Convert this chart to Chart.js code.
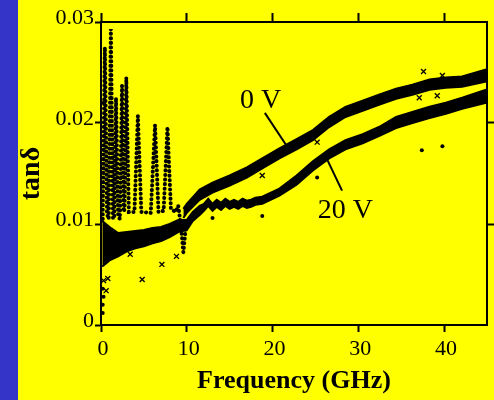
<!DOCTYPE html>
<html lang="en">
<head>
  <meta charset="UTF-8">
  <title>tan delta vs frequency</title>
  <script src="https://cdn.jsdelivr.net/npm/chart.js"></script>
  <style>
    body { margin: 0; background: #ffff00; }
    .strip { position: absolute; left: 0; top: 0; width: 18px; height: 400px; background: #3434c8; }
    .chart-box { position: absolute; left: 18px; top: 0; width: 476px; height: 400px; background: #ffff00; }
  </style>
</head>
<body>
  <div class="strip"></div>
  <div class="chart-box"><canvas id="lossChart"></canvas></div>

  <script>
    // ticks
    const xTicks = [0, 10, 20, 30, 40];
    const yTicks = [0, 0.01, 0.02, 0.03];
    const yTickLabels = ['0', '0.01', '0.02', '0.03'];

    // 20 V trace (thick band, lower and upper edge)
    const freq20V = [0.15, 1, 2, 3, 4, 5, 6, 7, 8, 9, 10, 10.7, 11.5, 12, 12.5, 13, 13.5, 14, 14.5, 15,
      15.5, 16, 16.5, 17, 17.5, 18, 18.8, 20.8, 22.8, 24.7, 26.6, 28.5, 30.5, 32.4, 34.4, 36.3, 38.3, 40.2, 42.1, 44.9];
    const tan20VLow = [0.0058, 0.0064, 0.0068, 0.0073, 0.0076, 0.0078, 0.0081, 0.0083, 0.0087, 0.0092, 0.0094, 0.0103, 0.0109, 0.0113, 0.0118, 0.0113, 0.0117, 0.0114, 0.0118, 0.0115,
      0.0117, 0.0115, 0.0118, 0.0116, 0.0117, 0.0119, 0.0120, 0.0128, 0.0139, 0.0153, 0.0165, 0.0174, 0.0180, 0.0187, 0.0195, 0.0200, 0.0205, 0.0209, 0.0214, 0.0220];
    const tan20VHigh = [0.0103, 0.0097, 0.0091, 0.0092, 0.0093, 0.0094, 0.0096, 0.0097, 0.0100, 0.0104, 0.0104, 0.0112, 0.0118, 0.0120, 0.0125, 0.0120, 0.0124, 0.0121, 0.0125, 0.0122,
      0.0124, 0.0122, 0.0125, 0.0123, 0.0124, 0.0126, 0.0127, 0.0135, 0.0148, 0.0162, 0.0174, 0.0183, 0.0189, 0.0196, 0.0206, 0.0211, 0.0216, 0.0220, 0.0225, 0.0233];

    // 0 V trace above 10 GHz
    const freq0V = [9.6, 10, 11.5, 13, 15, 17, 18.8, 20.8, 22.8, 24.7, 26.6, 28.5, 30.5, 32.4, 34.4, 36.3, 38.3, 40.2, 42.1, 44.9];
    const tan0VLow = [0.0106, 0.0111, 0.0124, 0.0131, 0.0138, 0.0146, 0.0155, 0.0165, 0.0174, 0.0183, 0.0196, 0.0206, 0.0212, 0.0218, 0.0224, 0.0228, 0.0233, 0.0235, 0.0236, 0.0241];
    const tan0VHigh = [0.0115, 0.0120, 0.0134, 0.0141, 0.0148, 0.0156, 0.0165, 0.0175, 0.0184, 0.0193, 0.0206, 0.0216, 0.0222, 0.0228, 0.0234, 0.0238, 0.0243, 0.0245, 0.0246, 0.0253];

    // 0 V resonances below 10 GHz
    const freqRes = [0.2, 0.45, 0.7, 0.9, 1.15, 1.4, 1.55, 1.75, 2.0, 2.2, 2.45, 2.65, 2.75, 2.95, 3.25, 3.9, 4.3, 4.7,
      5.8, 6.3, 6.7, 7.3, 7.75, 8.15, 8.7, 9.0, 9.3, 9.6, 9.9];
    const tanRes = [0.0105, 0.0275, 0.0110, 0.0105, 0.0293, 0.0105, 0.0108, 0.0225, 0.0108, 0.0105, 0.0237, 0.0112, 0.0115, 0.0245, 0.0112, 0.0112, 0.0207, 0.0112,
      0.0111, 0.0198, 0.0112, 0.0113, 0.0196, 0.0115, 0.0112, 0.0118, 0.0100, 0.0072, 0.0098];

    // stray points
    const crossFreq = [0.1, 0.3, 0.6, 0.8, 3.4, 4.8, 7.1, 8.8, 18.8, 25.2, 37.1, 37.6, 39.2, 39.8];
    const crossTan = [0.0220, 0.0044, 0.0034, 0.0046, 0.0070, 0.0045, 0.0060, 0.0068, 0.0148, 0.0181, 0.0225, 0.0251, 0.0227, 0.0247];
    const dotFreq = [0.2, 0.2, 0.3, 0.2, 13.0, 18.8, 25.2, 37.4, 39.8];
    const dotTan = [0.0012, 0.0020, 0.0028, 0.0036, 0.0106, 0.0108, 0.0146, 0.0173, 0.0177];

    // labels with pointer lines
    const noteText = ['0 V', '20 V'];
    const noteAt = [[18.6, 0.02145], [28.5, 0.01063]];
    const pointerFrom = [[19.1, 0.0210], [26.3, 0.0165]];
    const pointerTo = [[21.6, 0.0178], [28.1, 0.0133]];

    const serif = "'Liberation Serif', 'Times New Roman', serif";
    const pts = (xs, ys) => xs.map((x, i) => ({ x: x, y: ys[i] }));

    const notesPlugin = {
      id: 'notes',
      afterDatasetsDraw(chart) {
        const ctx = chart.ctx;
        const sx = chart.scales.x, sy = chart.scales.y;
        ctx.save();
        ctx.strokeStyle = '#000';
        ctx.lineWidth = 2;
        pointerFrom.forEach((p, i) => {
          ctx.beginPath();
          ctx.moveTo(sx.getPixelForValue(p[0]), sy.getPixelForValue(p[1]));
          ctx.lineTo(sx.getPixelForValue(pointerTo[i][0]), sy.getPixelForValue(pointerTo[i][1]));
          ctx.stroke();
        });
        ctx.fillStyle = '#000';
        ctx.font = '28px ' + serif;
        ctx.textAlign = 'center';
        ctx.textBaseline = 'alphabetic';
        noteText.forEach((t, i) => {
          ctx.fillText(t, sx.getPixelForValue(noteAt[i][0]), sy.getPixelForValue(noteAt[i][1]));
        });
        ctx.restore();
      }
    };

    const band = (data, fill) => ({
      data: data,
      borderColor: '#000',
      backgroundColor: '#000',
      borderWidth: 2,
      pointRadius: 0,
      fill: fill,
      tension: 0
    });

    const axisGrid = (len) => ({
      drawOnChartArea: false,
      drawTicks: true,
      tickLength: len,
      tickWidth: 2,
      tickColor: '#000'
    });

    new Chart(document.getElementById('lossChart'), {
      type: 'line',
      data: {
        datasets: [
          band(pts(freq20V, tan20VHigh), '+1'),
          band(pts(freq20V, tan20VLow), false),
          band(pts(freq0V, tan0VHigh), '+1'),
          band(pts(freq0V, tan0VLow), false),
          {
            data: pts(freqRes, tanRes),
            borderColor: '#000',
            borderWidth: 4,
            borderDash: [0.1, 4.5],
            borderCapStyle: 'round',
            pointRadius: 0,
            fill: false,
            tension: 0
          },
          {
            data: pts(crossFreq, crossTan),
            showLine: false,
            pointStyle: 'crossRot',
            pointRadius: 3.5,
            borderColor: '#000',
            borderWidth: 1.3
          },
          {
            data: pts(dotFreq, dotTan),
            showLine: false,
            pointRadius: 2,
            backgroundColor: '#000',
            borderColor: '#000',
            borderWidth: 0
          }
        ]
      },
      options: {
        responsive: true,
        maintainAspectRatio: false,
        animation: false,
        layout: { padding: { top: 13, right: 0, bottom: 0, left: 0 } },
        plugins: { legend: { display: false }, tooltip: { enabled: false } },
        scales: {
          x: {
            type: 'linear',
            position: 'bottom',
            min: 0,
            max: 45,
            afterBuildTicks: (s) => { s.ticks = xTicks.map(v => ({ value: v })); },
            afterFit: (s) => { s.height = 75; },
            grid: axisGrid(7),
            border: { display: true, color: '#000', width: 2 },
            ticks: {
              color: '#000',
              font: { family: serif, size: 22 },
              padding: 4,
              labelOffset: 2,
              maxRotation: 0
            },
            title: {
              display: true,
              text: 'Frequency (GHz)',
              color: '#000',
              font: { family: serif, size: 26, weight: 'bold' },
              padding: { top: 0, bottom: 3 }
            }
          },
          x2: {
            type: 'linear',
            position: 'top',
            min: 0,
            max: 45,
            afterBuildTicks: (s) => { s.ticks = xTicks.map(v => ({ value: v })); },
            grid: axisGrid(9),
            border: { display: true, color: '#000', width: 2 },
            ticks: { display: false }
          },
          y: {
            type: 'linear',
            position: 'left',
            min: 0,
            max: 0.03,
            afterBuildTicks: (s) => { s.ticks = yTicks.map(v => ({ value: v })); },
            afterFit: (s) => { s.width = 83; },
            grid: axisGrid(6),
            border: { display: true, color: '#000', width: 2 },
            ticks: {
              color: '#000',
              font: { family: serif, size: 22 },
              padding: 1,
              labelOffset: -4,
              callback: (v) => yTickLabels[yTicks.indexOf(v)]
            },
            title: {
              display: true,
              text: 'tanδ',
              color: '#000',
              font: { family: serif, size: 28, weight: 'bold', lineHeight: 1 },
              padding: 0
            }
          },
          y2: {
            type: 'linear',
            position: 'right',
            min: 0,
            max: 0.03,
            afterBuildTicks: (s) => { s.ticks = [0.01, 0.02].map(v => ({ value: v })); },
            grid: axisGrid(7),
            border: { display: true, color: '#000', width: 2 },
            ticks: { display: false }
          }
        }
      },
      plugins: [notesPlugin]
    });
  </script>
</body>
</html>
